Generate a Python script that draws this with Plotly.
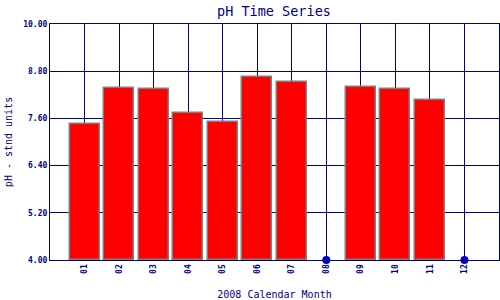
import plotly.graph_objects as go

months = [1, 2, 3, 4, 5, 6, 7, 8, 9, 10, 11, 12]
month_labels = ["01", "02", "03", "04", "05", "06", "07", "08", "09", "10", "11", "12"]
ph_values = [7.45, 8.37, 8.34, 7.73, 7.50, 8.65, 8.52, None, 8.39, 8.34, 8.07, None]
missing_months = [8, 12]
missing_values = [4.0, 4.0]
y_ticks = [4.00, 5.20, 6.40, 7.60, 8.80, 10.00]

NAVY = "#000080"
FONT = "DejaVu Sans Mono"

fig = go.Figure()
fig.add_trace(go.Bar(
    x=months, y=[None if v is None else v - 4.0 for v in ph_values], base=4.0,
    width=0.87,
    marker=dict(color="#ff0000", line=dict(color="#808080", width=1.5)),
    showlegend=False,
))
fig.add_trace(go.Scatter(
    x=missing_months, y=missing_values, mode="markers",
    marker=dict(color="#0000cc", size=8),
    cliponaxis=False, showlegend=False,
))

fig.update_layout(
    width=500, height=300,
    margin=dict(l=50, r=1, t=24, b=40),
    paper_bgcolor="white", plot_bgcolor="white",
    title=dict(text="pH Time Series", x=0.548, xanchor="center", y=0.963, yanchor="middle",
               font=dict(family=FONT, size=13.5, color=NAVY)),
    font=dict(family=FONT, color=NAVY),
    bargap=0,
)
fig.update_xaxes(
    range=[0, 13], tickvals=months, ticktext=month_labels, tickangle=-90,
    tickfont=dict(family=FONT, size=8, color=NAVY, weight="bold"),
    showgrid=True, gridcolor=NAVY, gridwidth=1,
    showline=True, linecolor=NAVY, linewidth=1.2, mirror=True,
    ticks="", zeroline=False,
    title=dict(text="2008 Calendar Month", font=dict(family=FONT, size=10, color=NAVY), standoff=18),
)
fig.update_yaxes(
    range=[4, 10], tickvals=y_ticks, tickformat=".2f",
    tickfont=dict(family=FONT, size=8, color=NAVY, weight="bold"),
    showgrid=True, gridcolor=NAVY, gridwidth=1,
    showline=True, linecolor=NAVY, linewidth=1.2, mirror=True,
    ticks="", ticklen=0, zeroline=False,
    title=dict(text="pH - stnd units", font=dict(family=FONT, size=10, color=NAVY), standoff=8),
)

fig.write_html("out.html")
